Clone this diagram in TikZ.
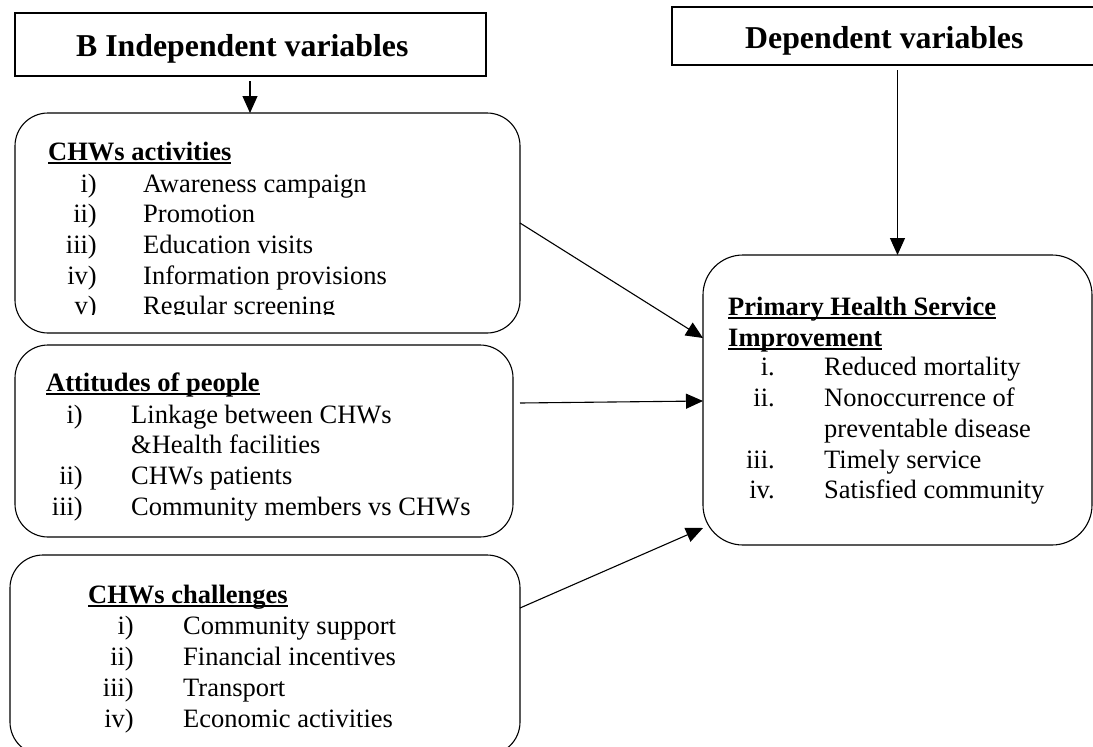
\documentclass[tikz,border=0pt]{standalone}
\usepackage{fontspec}
\setmainfont{Liberation Serif}
\usetikzlibrary{arrows.meta,calc}
\newcommand\ulh[1]{\setbox0\hbox{#1}\rlap{\rule[-4pt]{\wd0}{1.6pt}}\box0}
\begin{document}
\begin{tikzpicture}[x=1pt,y=-1pt,
  rbox/.style={draw,line width=1.1pt,rounded corners=33pt,inner sep=0pt,outer sep=0pt,anchor=north west},
  tbox/.style={draw,line width=1.1pt,inner sep=0pt,outer sep=0pt,anchor=north west},
  title/.style={inner sep=0pt,anchor=base west,font=\fontsize{31.8}{36}\selectfont\bfseries},
  body/.style={inner sep=0pt,font=\fontsize{26.5}{30.5}\selectfont},
  head/.style={inner sep=0pt,anchor=base west,font=\fontsize{26.5}{30.5}\selectfont\bfseries},
  arr/.style={line width=1.1pt,-{Triangle[length=17pt,width=15pt]}}]
\clip (0,0) rectangle (1093,747);
\fill[white] (0,0) rectangle (1093,747);
% title boxes
\node[tbox,minimum width=471pt,minimum height=63pt] (B) at (15,13) {};
\node[title] (Btxt) at (76,56) {B Independent variables};
\node[tbox,minimum width=425pt,minimum height=58pt] (dep) at (672,7) {};
\node[title] (deptxt) at (745,48) {Dependent variables};
% rounded boxes
\node[rbox,minimum width=505pt,minimum height=220pt] (act) at (15,113) {};
\node[rbox,minimum width=498pt,minimum height=192pt] (att) at (15,345) {};
\node[rbox,minimum width=510pt,minimum height=200pt] (chal) at (10,555) {};
\node[rbox,minimum width=389pt,minimum height=290pt,rounded corners=40pt] (phs) at (703,255) {};
% CHWs activities text (clipped)
\begin{scope}
\clip (15,113) rectangle (520,314);
\node[head] (acth) at (48,160) {\ulh{CHWs activities}};
\foreach \n/\t [count=\k] in {i)/Awareness campaign,ii)/Promotion,iii)/Education visits,iv)/Information provisions,v)/Regular screening}{
  \node[body,anchor=base east] (actn\k) at ({97},{192+30.7*(\k-1)}) {\n};
  \node[body,anchor=base west] (actt\k) at ({143},{192+30.7*(\k-1)}) {\t};
}
\end{scope}
% Attitudes text
\node[head] (atth) at (46,391) {\ulh{Attitudes of people}};
\node[body,anchor=base east] (attn1) at (83,423) {i)};
\node[body,anchor=base west] (attt1) at (131,423) {Linkage between CHWs};
\node[body,anchor=base west] (attt1b) at (131,453.7) {\&Health facilities};
\node[body,anchor=base east] (attn2) at (83,484.4) {ii)};
\node[body,anchor=base west] (attt2) at (131,484.4) {CHWs patients};
\node[body,anchor=base east] (attn3) at (83,515.1) {iii)};
\node[body,anchor=base west] (attt3) at (131,515.1) {Community members vs CHWs};
% Challenges text
\node[head] (chalh) at (88,603) {\ulh{CHWs challenges}};
\foreach \n/\t [count=\k] in {i)/Community support,ii)/Financial incentives,iii)/Transport,iv)/Economic activities}{
  \node[body,anchor=base east] (chaln\k) at ({134},{634+31*(\k-1)}) {\n};
  \node[body,anchor=base west] (chalt\k) at ({183},{634+31*(\k-1)}) {\t};
}
% PHS text
\node[head] (phsh1) at (728,315) {\ulh{Primary Health Service}};
\node[head] (phsh2) at (728,346) {\ulh{Improvement}};
\node[body,anchor=base east] (phsn1) at (775,375) {i.};
\node[body,anchor=base west] (phst1) at (824,375) {Reduced mortality};
\node[body,anchor=base east] (phsn2) at (775,406) {ii.};
\node[body,anchor=base west] (phst2) at (824,406) {Nonoccurrence of};
\node[body,anchor=base west] (phst2b) at (824,437) {preventable disease};
\node[body,anchor=base east] (phsn3) at (775,468) {iii.};
\node[body,anchor=base west] (phst3) at (824,468) {Timely service};
\node[body,anchor=base east] (phsn4) at (775,498) {iv.};
\node[body,anchor=base west] (phst4) at (824,498) {Satisfied community};
% connectors
\draw[arr,shorten <=5pt] (B.south -| 250,0) -- (act.north -| 250,0);
\draw[arr,shorten <=5pt] (dep.south -| phs.north) -- (phs.north);
\draw[arr] (act.east) -- ($(phs.west)+(0,-62)$);
\draw[arr] ($(att.east)+(7,-38)$) -- ($(phs.west)+(0,1)$);
\draw[arr] ($(chal.east)+(0,-47)$) -- ($(phs.west)+(0,128)$);
\end{tikzpicture}
\end{document}
